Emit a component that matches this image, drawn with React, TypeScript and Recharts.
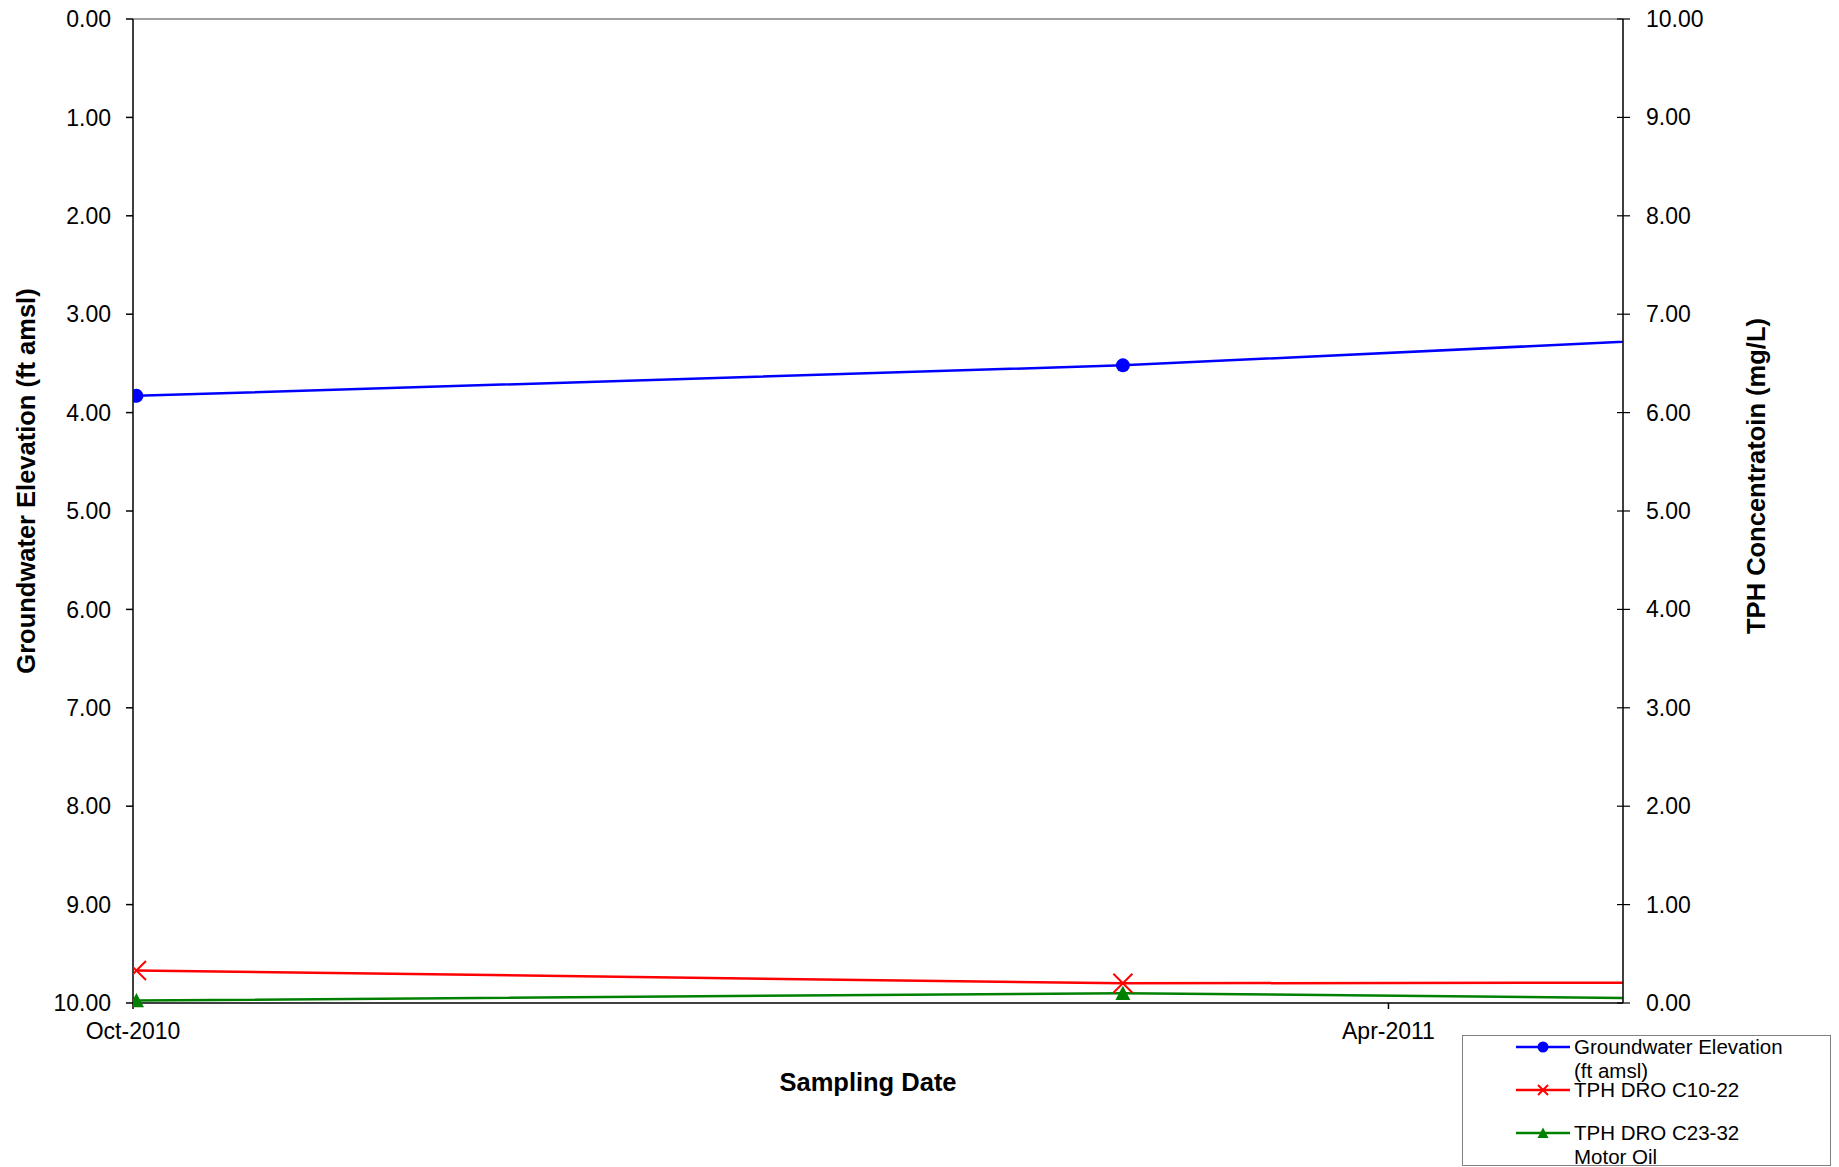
import { LineChart, Line, XAxis, YAxis, Legend, ReferenceLine } from 'recharts';

// sampling events
const sampleDates = ['2010-10-01', '2011-02-21', '2011-06-10'];
const groundwaterElevation = [3.83, 3.52, 3.16];
const tphDroC10C22 = [0.33, 0.2, 0.21];
const tphDroC23C32 = [0.025, 0.1, 0.025];

// axes
const dateTicks = ['2010-10-01', '2011-04-01'];
const dateRange = ['2010-10-01', '2011-05-05'];
const elevationTicks = [0, 1, 2, 3, 4, 5, 6, 7, 8, 9, 10];
const concentrationTicks = [0, 1, 2, 3, 4, 5, 6, 7, 8, 9, 10];
const monthNames = ['Jan', 'Feb', 'Mar', 'Apr', 'May', 'Jun', 'Jul', 'Aug', 'Sep', 'Oct', 'Nov', 'Dec'];

const DAY = 24 * 60 * 60 * 1000;
const toTime = (d: string) => Date.parse(d + 'T00:00:00Z');

// points sit in the middle of their day, like a date axis
const data = sampleDates.map((d, i) => ({
  date: toTime(d) + DAY / 2,
  gw: groundwaterElevation[i],
  dro: tphDroC10C22[i],
  mo: tphDroC23C32[i],
}));

const FONT = '"Liberation Sans", Arial, sans-serif';
const RIGHT_TICK_SIZE = 7;
const RIGHT_TICK_MARGIN = 16;

const fmtDate = (t: number) => {
  const d = new Date(t);
  return `${monthNames[d.getUTCMonth()]}-${d.getUTCFullYear()}`;
};

function RightTick(props: any) {
  const { x, y, payload } = props;
  const axisX = x - RIGHT_TICK_SIZE - RIGHT_TICK_MARGIN;
  return (
    <g>
      <line x1={axisX - 6} x2={axisX + RIGHT_TICK_SIZE} y1={y} y2={y} stroke="#000" strokeWidth={1.2} />
      <text x={x} y={y} fontSize={23} fill="#000" textAnchor="start" dominantBaseline="central">
        {payload.value.toFixed(2)}
      </text>
    </g>
  );
}

function CircleDot({ cx, cy, r = 7, color = '#0000FF' }: any) {
  if (cx == null || cy == null) return null;
  return <circle cx={cx} cy={cy} r={r} fill={color} stroke="none" />;
}

function CrossDot({ cx, cy, s = 9.5, color = '#FF0000' }: any) {
  if (cx == null || cy == null) return null;
  return (
    <g stroke={color} strokeWidth={2}>
      <line x1={cx - s} y1={cy - s} x2={cx + s} y2={cy + s} />
      <line x1={cx - s} y1={cy + s} x2={cx + s} y2={cy - s} />
    </g>
  );
}

function TriangleDot({ cx, cy, s = 7.5, color = '#008000' }: any) {
  if (cx == null || cy == null) return null;
  return <polygon points={`${cx},${cy - s} ${cx - s},${cy + s * 0.9} ${cx + s},${cy + s * 0.9}`} fill={color} />;
}

const legendMarkers: Record<string, (cx: number, cy: number) => any> = {
  gw: (cx, cy) => <CircleDot cx={cx} cy={cy} r={5.5} />,
  dro: (cx, cy) => <CrossDot cx={cx} cy={cy} s={5} />,
  mo: (cx, cy) => <TriangleDot cx={cx} cy={cy} s={5.5} />,
};

function renderLegend(props: any) {
  const { payload = [] } = props;
  return (
    <div
      style={{
        position: 'relative',
        width: 369,
        height: 131,
        border: '1px solid #808080',
        boxSizing: 'border-box',
        background: '#fff',
        fontFamily: FONT,
      }}
    >
      {payload.map((p: any, i: number) => {
        const center = 11 + 43 * i;
        return (
          <div key={p.dataKey} style={{ position: 'absolute', left: 0, top: 0 }}>
            <svg width={110} height={131} style={{ position: 'absolute', left: 0, top: 0, overflow: 'visible' }}>
              <line x1={53} x2={107} y1={center} y2={center} stroke={p.color} strokeWidth={2.5} />
              {legendMarkers[p.dataKey](80, center)}
            </svg>
            <div
              style={{
                position: 'absolute',
                left: 111,
                top: center - 12,
                width: 215,
                fontSize: 20.5,
                lineHeight: '24px',
                color: '#000',
                whiteSpace: 'normal',
              }}
            >
              {p.value}
            </div>
          </div>
        );
      })}
    </div>
  );
}

export default function App() {
  return (
    <div style={{ position: 'absolute', left: 0, top: 0, width: 1839, height: 1167, background: '#fff', fontFamily: FONT }}>
      <LineChart width={1839} height={1167} data={data} margin={{ top: 19, right: 0, bottom: 0, left: 0 }}>
        <XAxis
          dataKey="date"
          type="number"
          scale="linear"
          domain={[toTime(dateRange[0]), toTime(dateRange[1])]}
          allowDataOverflow
          ticks={dateTicks.map(toTime)}
          tickFormatter={fmtDate}
          height={164}
          tickSize={6}
          tickMargin={14}
          stroke="#000"
          strokeWidth={1.5}
          tick={{ fill: '#000', fontSize: 23 }}
          label={{
            content: (lp: any) => {
              const vb = lp.viewBox;
              return (
                <text x={vb.x + vb.width / 2 - 10} y={vb.y + 88} textAnchor="middle" fontSize={25.5} fontWeight="bold" fill="#000">
                  Sampling Date
                </text>
              );
            },
          }}
        />
        <YAxis
          yAxisId="gw"
          orientation="left"
          reversed
          domain={[0, 10]}
          ticks={elevationTicks}
          tickFormatter={(v: number) => v.toFixed(2)}
          width={133}
          tickSize={7}
          tickMargin={15}
          stroke="#000"
          strokeWidth={1.5}
          tick={{ fill: '#000', fontSize: 23 }}
          label={{
            content: (lp: any) => {
              const vb = lp.viewBox;
              const cx = vb.x + 26;
              const cy = vb.y + vb.height / 2 - 30;
              return (
                <text
                  x={cx}
                  y={cy}
                  transform={`rotate(-90 ${cx} ${cy})`}
                  textAnchor="middle"
                  dominantBaseline="central"
                  fontSize={25.5}
                  fontWeight="bold"
                  fill="#000"
                >
                  Groundwater Elevation (ft amsl)
                </text>
              );
            },
          }}
        />
        <YAxis
          yAxisId="tph"
          orientation="right"
          domain={[0, 10]}
          ticks={concentrationTicks}
          width={216}
          tickSize={RIGHT_TICK_SIZE}
          tickMargin={RIGHT_TICK_MARGIN}
          tickLine={false}
          stroke="#000"
          strokeWidth={1.5}
          tick={<RightTick />}
          label={{
            content: (lp: any) => {
              const vb = lp.viewBox;
              const cx = vb.x + 133;
              const cy = vb.y + vb.height / 2 - 35;
              return (
                <text
                  x={cx}
                  y={cy}
                  transform={`rotate(-90 ${cx} ${cy})`}
                  textAnchor="middle"
                  dominantBaseline="central"
                  fontSize={25.5}
                  fontWeight="bold"
                  fill="#000"
                >
                  TPH Concentratoin (mg/L)
                </text>
              );
            },
          }}
        />
        {/* plot area top border */}
        <ReferenceLine yAxisId="gw" y={0} stroke="#808080" strokeWidth={1.5} />
        <Line
          yAxisId="gw"
          dataKey="gw"
          name="Groundwater Elevation (ft amsl)"
          stroke="#0000FF"
          strokeWidth={2.5}
          isAnimationActive={false}
          dot={(p: any) => <CircleDot key={`gw-${p.index}`} cx={p.cx} cy={p.cy} />}
          activeDot={false}
        />
        <Line
          yAxisId="tph"
          dataKey="dro"
          name="TPH DRO C10-22"
          stroke="#FF0000"
          strokeWidth={2.5}
          isAnimationActive={false}
          dot={(p: any) => <CrossDot key={`dro-${p.index}`} cx={p.cx} cy={p.cy} />}
          activeDot={false}
        />
        <Line
          yAxisId="tph"
          dataKey="mo"
          name="TPH DRO C23-32 Motor Oil"
          stroke="#008000"
          strokeWidth={2.5}
          isAnimationActive={false}
          dot={(p: any) => <TriangleDot key={`mo-${p.index}`} cx={p.cx} cy={p.cy} />}
          activeDot={false}
        />
        <Legend
          layout="vertical"
          align="center"
          verticalAlign="middle"
          content={renderLegend}
          wrapperStyle={{ left: 1462, top: 1035, width: 369, height: 131 }}
        />
      </LineChart>
    </div>
  );
}
